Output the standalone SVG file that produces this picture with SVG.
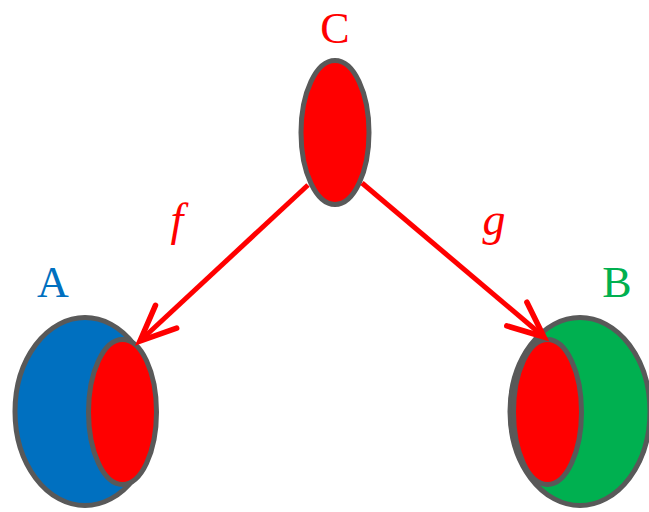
<svg xmlns="http://www.w3.org/2000/svg" width="649" height="512" viewBox="0 0 649 512">
<style>
.sh{stroke:#595959;stroke-width:5}
.red{fill:#FF0000}
.lbl{font-family:"Liberation Serif",serif;font-size:44px;text-anchor:middle}
.it{font-family:"Liberation Serif",serif;font-size:46px;font-style:italic;text-anchor:middle;fill:#FF0000}
.con{stroke:#FF0000;stroke-width:5;fill:none}
</style>
<defs>
<marker id="ah" markerUnits="userSpaceOnUse" orient="auto" markerWidth="50" markerHeight="50" refX="0" refY="0" viewBox="-40 -20 45 40" overflow="visible">
<path d="M -32 -14 L 0 0 L -32 14" fill="none" stroke="#FF0000" stroke-width="5" stroke-linecap="round" stroke-linejoin="miter"/>
</marker>
</defs>
<g id="C">
<ellipse class="sh red" cx="335" cy="132.5" rx="34" ry="72"/>
<text class="lbl" x="335" y="43" fill="#FF0000">C</text>
</g>
<g id="A">
<ellipse class="sh" fill="#0070C0" cx="85" cy="411.5" rx="70" ry="94"/>
<ellipse class="sh red" cx="122.5" cy="412" rx="34" ry="72.5"/>
<text class="lbl" x="53" y="297" fill="#0070C0">A</text>
</g>
<g id="B">
<ellipse class="sh" fill="#00B050" cx="580" cy="411.5" rx="70" ry="94"/>
<ellipse class="sh red" cx="547.5" cy="412" rx="34" ry="72.5"/>
<text class="lbl" x="617" y="297" fill="#00B050">B</text>
</g>
<g id="connectors">
<line class="con" x1="308" y1="185" x2="140" y2="341" marker-end="url(#ah)"/>
<line class="con" x1="362" y1="183" x2="544" y2="337" marker-end="url(#ah)"/>
<text class="it" x="177" y="235">f</text>
<text class="it" x="494" y="235">g</text>
</g>
</svg>
